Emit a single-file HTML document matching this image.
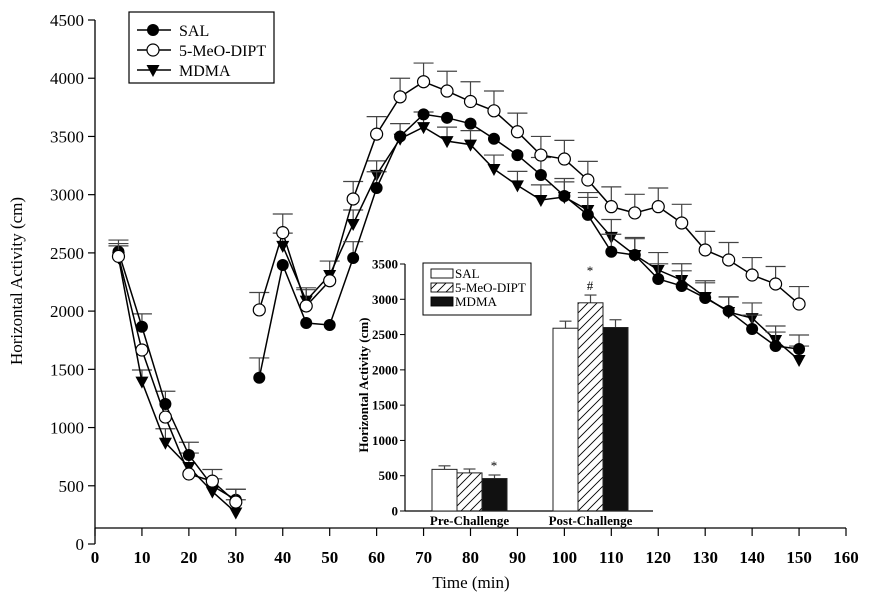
<!DOCTYPE html>
<html><head><meta charset="utf-8"><style>
body{margin:0;background:#fff;width:878px;height:600px;overflow:hidden}
svg{display:block;font-family:"Liberation Serif",serif}
</style></head><body>
<svg id="chart" width="878" height="600" viewBox="0 0 878 600" xmlns="http://www.w3.org/2000/svg">
<defs><pattern id="hatch" patternUnits="userSpaceOnUse" width="9" height="9" patternTransform="rotate(0)">
<path d="M-1,10 L10,-1 M-2,2 L2,-2 M7,11 L11,7" stroke="#000" stroke-width="0.9"/></pattern></defs>
<g id="main"></g><g id="inset"></g>
</svg>
<script>
const times=[5,10,15,20,25,30,35,40,45,50,55,60,65,70,75,80,85,90,95,100,105,110,115,120,125,130,135,140,145,150];
const salValues=[2510,1866,1202,764,500,380,1428,2396,1898,1881,2456,3057,3500,3690,3660,3610,3480,3340,3169,2989,2826,2510,2482,2276,2216,2113,2001,1846,1700,1675];
const salErr=[100,110,110,110,0,90,170,0,0,0,140,140,0,0,0,0,0,0,150,150,150,150,140,130,130,130,120,120,120,120];
const dmptValues=[2470,1666,1090,601,540,360,2010,2674,2044,2261,2963,3520,3840,3970,3890,3800,3720,3540,3340,3306,3126,2897,2843,2897,2757,2525,2439,2310,2233,2061];
const dmptErr=[110,0,0,0,100,110,150,160,140,0,150,150,160,160,170,170,170,160,160,160,160,170,160,160,160,160,150,150,150,150];
const mdmaValues=[2460,1394,870,661,450,270,null,2560,2090,2310,2748,3170,3480,3580,3460,3430,3220,3080,2954,2980,2868,2637,2482,2353,2267,2121,1992,1940,1752,1580];
const mdmaErr=[100,100,120,120,110,110,0,110,110,120,120,120,130,130,120,120,120,120,130,130,150,150,150,150,140,140,130,130,120,120];
const yTicks=[0,500,1000,1500,2000,2500,3000,3500,4000,4500];
const xTicks=[0,10,20,30,40,50,60,70,80,90,100,110,120,130,140,150,160];
const insetGroups=["Pre-Challenge","Post-Challenge"];
const insetSal=[590,2590];
const insetDmpt=[540,2950];
const insetMdma=[460,2600];
const insetSalErr=[50,100];
const insetDmptErr=[55,110];
const insetMdmaErr=[50,110];
const insetTicks=[0,500,1000,1500,2000,2500,3000,3500];

const NS="http://www.w3.org/2000/svg";
function mk(parent,tag,attrs,text){const e=document.createElementNS(NS,tag);for(const k in attrs)e.setAttribute(k,attrs[k]);if(text!==undefined)e.textContent=text;parent.appendChild(e);return e;}
const X=t=>95+t*(751/160);
const Y=v=>544-v*(524/4500);
const main=document.getElementById('main');
let ax=mk(main,'g',{});

mk(ax,'line',{x1:95,y1:Y(4500),x2:95,y2:544,stroke:'#000','stroke-width':1.3});
yTicks.forEach(v=>{mk(ax,'line',{x1:88,y1:Y(v),x2:95,y2:Y(v),stroke:'#000','stroke-width':1.2});
 const t=mk(ax,'text',{x:84,y:Y(v)+6,'text-anchor':'end','font-size':17},String(v));});
let xa=mk(main,'g',{});

mk(xa,'line',{x1:95,y1:528,x2:846,y2:528,stroke:'#000','stroke-width':1.3});
xTicks.forEach(v=>{mk(xa,'line',{x1:X(v),y1:528,x2:X(v),y2:536,stroke:'#000','stroke-width':1.2});
 const t=mk(xa,'text',{x:X(v),y:563,'text-anchor':'middle','font-size':17,'font-weight':'bold'},String(v));});
let yt=mk(main,'text',{x:0,y:0,transform:'translate(22,281) rotate(-90)','text-anchor':'middle','font-size':17},'Horizontal Activity (cm)');

let xt=mk(main,'text',{x:471,y:588,'text-anchor':'middle','font-size':17},'Time (min)');


function marker(g,type,x,y){
 if(type==='fill')return mk(g,'circle',{cx:x,cy:y,r:6,fill:'#000'});
 if(type==='open')return mk(g,'circle',{cx:x,cy:y,r:6,fill:'#fff',stroke:'#000','stroke-width':1.2});
 return mk(g,'path',{d:`M${x-6.5},${y-5} L${x+6.5},${y-5} L${x},${y+7} Z`,fill:'#000'});
}
function series(name,vals,errs,type){
 const g=mk(main,'g',{});
 
 vals.forEach((v,i)=>{if(v==null||!errs[i])return;const x=X(times[i]);
  mk(g,'line',{x1:x,y1:Y(v),x2:x,y2:Y(v+errs[i]),stroke:'#444','stroke-width':1.2});
  mk(g,'line',{x1:x-10,y1:Y(v+errs[i]),x2:x+10,y2:Y(v+errs[i]),stroke:'#444','stroke-width':1.2});});
 const segs=[[0,5],[6,29]];
 segs.forEach(([a,b])=>{let pts=[];for(let i=a;i<=b;i++)if(vals[i]!=null)pts.push(X(times[i])+','+Y(vals[i]));
  mk(g,'polyline',{points:pts.join(' '),fill:'none',stroke:'#000','stroke-width':1.5});});
 vals.forEach((v,i)=>{if(v==null)return;const m=marker(g,type,X(times[i]),Y(v));});
}
series('series-mdma',mdmaValues,mdmaErr,'tri');
series('series-sal',salValues,salErr,'fill');
series('series-5-meo-dipt',dmptValues,dmptErr,'open');

const lg=mk(main,'g',{});

mk(lg,'rect',{x:129,y:12,width:145,height:71,fill:'#fff',stroke:'#000','stroke-width':1.2});
[['SAL','fill',30],['5-MeO-DIPT','open',50],['MDMA','tri',70]].forEach(([l,t,y])=>{
 const e=mk(lg,'g',{});
 mk(e,'line',{x1:137,y1:y,x2:171,y2:y,stroke:'#000','stroke-width':1.5});marker(e,t,153,y);
 mk(e,'text',{x:179,y:y+6,'font-size':16},l);});

const ins=document.getElementById('inset');
const IY=v=>511-v*(247/3500);
const iax=mk(ins,'g',{});

mk(iax,'line',{x1:405,y1:IY(3500),x2:405,y2:511,stroke:'#000','stroke-width':1.2});
mk(iax,'line',{x1:405,y1:511,x2:653,y2:511,stroke:'#000','stroke-width':1.2});
insetTicks.forEach(v=>{mk(iax,'line',{x1:400,y1:IY(v),x2:405,y2:IY(v),stroke:'#000'});
 const t=mk(iax,'text',{x:398,y:IY(v)+4.5,'text-anchor':'end','font-size':13,'font-weight':'bold'},String(v));});
let it=mk(ins,'text',{x:0,y:0,transform:'translate(368,385) rotate(-90)','text-anchor':'middle','font-size':13,'font-weight':'bold'},'Horizontal Activity (cm)');

const groupStart=[432,553];const bw=25;
const fills=['#fff','url(#hatch)','#111'];
const sets=[insetSal,insetDmpt,insetMdma];const errsI=[insetSalErr,insetDmptErr,insetMdmaErr];
const bnames=['bar-sal','bar-5-meo-dipt','bar-mdma'];
insetGroups.forEach((gname,gi)=>{
 sets.forEach((arr,si)=>{const x=groupStart[gi]+si*bw;const v=arr[gi];const e=errsI[si][gi];
  mk(ins,'line',{x1:x+bw/2,y1:IY(v),x2:x+bw/2,y2:IY(v+e),stroke:'#444','stroke-width':1.2});
  mk(ins,'line',{x1:x+bw/2-6,y1:IY(v+e),x2:x+bw/2+6,y2:IY(v+e),stroke:'#444','stroke-width':1.2});
  const r=mk(ins,'rect',{x:x,y:IY(v),width:bw,height:511-IY(v),fill:fills[si],stroke:'#222','stroke-width':1});
  });
 const t=mk(ins,'text',{x:groupStart[gi]+37.5,y:525,'text-anchor':'middle','font-size':13,'font-weight':'bold'},gname);
 
});
mk(ins,'text',{x:groupStart[0]+62,y:IY(insetMdma[0]+insetMdmaErr[0])-5,'text-anchor':'middle','font-size':13},'*');
mk(ins,'text',{x:groupStart[1]+37,y:IY(insetDmpt[1]+insetDmptErr[1])-20,'text-anchor':'middle','font-size':13},'*');
mk(ins,'text',{x:groupStart[1]+37,y:IY(insetDmpt[1]+insetDmptErr[1])-5,'text-anchor':'middle','font-size':13},'#');
const il=mk(ins,'g',{});

mk(il,'rect',{x:423,y:263,width:108,height:52,fill:'#fff',stroke:'#000','stroke-width':1});
[['SAL',0],['5-MeO-DIPT',1],['MDMA',2]].forEach(([l,i])=>{const y=269+i*14;
 const e=mk(il,'g',{});
 mk(e,'rect',{x:431,y:y,width:22,height:9,fill:fills[i],stroke:'#000','stroke-width':0.9});
 mk(e,'text',{x:455,y:y+9,'font-size':13},l);});
</script>
</body></html>
